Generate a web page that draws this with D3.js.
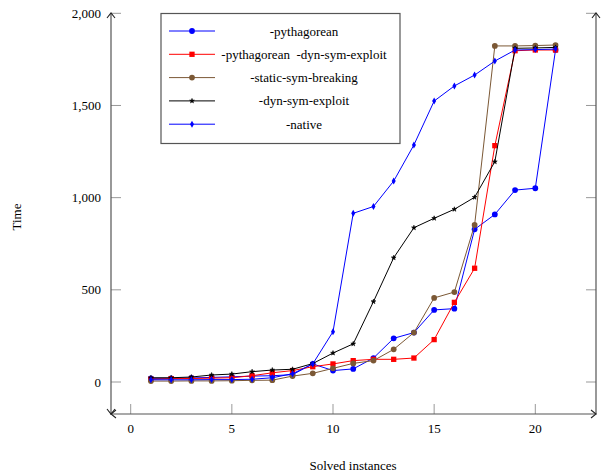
<!DOCTYPE html>
<html>
  <head>
    <meta charset="utf-8">
    <script src="https://d3js.org/d3.v7.min.js"></script>
    <style>
      body { margin: 0; background: #fff; }
      text { font-family: "Liberation Serif", "Times New Roman", serif; fill: #000; white-space: pre; }
    </style>
  </head>
  <body>
    <svg width="602" height="474"></svg>
    <script>
    //solved instances on the x axis
    var instances = d3.range(1, 22);

    //times for every configuration
    var pythagorean = [20, 20, 22, 25, 28, 32, 34, 40, 98, 62, 71, 130, 237, 268, 391, 398, 828, 909, 1041, 1051, 1801];
    var pythDynSym = [15, 18, 19, 21, 23, 34, 50, 62, 83, 98, 116, 123, 123, 130, 230, 432, 617, 1282, 1797, 1801, 1801];
    var staticSym = [5, 5, 6, 6, 7, 9, 10, 32, 47, 74, 101, 116, 177, 268, 456, 488, 852, 1823, 1823, 1825, 1828];
    var dynSym = [23, 23, 27, 38, 43, 56, 65, 69, 100, 157, 207, 436, 674, 837, 888, 937, 1002, 1195, 1810, 1812, 1815];
    var native = [12, 12, 12, 13, 13, 15, 23, 45, 98, 273, 915, 952, 1090, 1286, 1524, 1606, 1665, 1741, 1801, 1803, 1806];

    var seriesNames = ["-pythagorean", "-pythagorean  -dyn-sym-exploit", "-static-sym-breaking", "-dyn-sym-exploit", "-native"];
    var xTicks = [0, 5, 10, 15, 20];
    var yTicks = [0, 500, 1000, 1500, 2000];

    //styles for each series
    var styles = [
      {color: "#0000ff", symbol: d3.symbolCircle, size: 26},
      {color: "#ff0000", symbol: d3.symbolSquare, size: 28},
      {color: "#7b5835", symbol: d3.symbolCircle, size: 26},
      {color: "#000000", symbol: d3.symbolStar, size: 7},
      {color: "#0000ff", symbol: d3.symbolDiamond, size: 14}
    ];
    var values = [pythagorean, pythDynSym, staticSym, dynSym, native];

    var svg = d3.select("svg");

    //frame of the axis
    var frameL = 111, frameR = 596, frameT = 13, frameB = 414;

    var x = d3.scaleLinear().domain([0, 20]).range([130.7, 535.3]);
    var y = d3.scaleLinear().domain([0, 2000]).range([382, 13.3]);

    var axisColor = "#555";
    var tickColor = "#999";

    //tick marks
    var g = svg.append("g");
    g.selectAll(".ytl").data(yTicks).enter().append("line")
      .attr("x1", frameL).attr("x2", frameL + 10)
      .attr("y1", function(d) { return y(d); }).attr("y2", function(d) { return y(d); })
      .attr("stroke", tickColor).attr("stroke-width", 1);
    g.selectAll(".ytr").data(yTicks).enter().append("line")
      .attr("x1", frameR - 10).attr("x2", frameR)
      .attr("y1", function(d) { return y(d); }).attr("y2", function(d) { return y(d); })
      .attr("stroke", tickColor).attr("stroke-width", 1);
    g.selectAll(".xt").data(xTicks).enter().append("line")
      .attr("x1", function(d) { return x(d); }).attr("x2", function(d) { return x(d); })
      .attr("y1", frameB - 10).attr("y2", frameB)
      .attr("stroke", tickColor).attr("stroke-width", 1);

    //tick labels
    var fmt = d3.format(",");
    g.selectAll(".yl").data(yTicks).enter().append("text")
      .attr("x", 101).attr("y", function(d) { return y(d); })
      .attr("dy", "0.35em")
      .attr("text-anchor", "end")
      .attr("font-size", 13)
      .text(function(d) { return fmt(d); });
    g.selectAll(".xl").data(xTicks).enter().append("text")
      .attr("x", function(d) { return x(d); }).attr("y", 433)
      .attr("text-anchor", "middle")
      .attr("font-size", 13)
      .text(function(d) { return d; });

    //axis lines
    g.append("path")
      .attr("d", "M" + frameL + "," + frameT + "V" + frameB + "H" + frameR + "V" + frameT)
      .attr("fill", "none").attr("stroke", axisColor).attr("stroke-width", 1.2);

    //arrow heads
    function arrow(px, py, angle) {
      g.append("path")
        .attr("d", "M-5,-4L0,0L-5,4")
        .attr("transform", "translate(" + px + "," + py + ") rotate(" + angle + ")")
        .attr("fill", "none").attr("stroke", "#222").attr("stroke-width", 1.1);
    }
    arrow(frameL, frameT, -90);
    arrow(frameR, frameT, -90);
    arrow(frameR, frameB, 0);
    arrow(frameL, frameB, 90);
    arrow(frameL, frameB, 180);

    //axis titles
    svg.append("text")
      .attr("transform", "translate(21,217) rotate(-90)")
      .attr("text-anchor", "middle")
      .attr("font-size", 13)
      .text("Time");
    svg.append("text")
      .attr("x", 353).attr("y", 470)
      .attr("text-anchor", "middle")
      .attr("font-size", 13)
      .text("Solved instances");

    //lines and markers
    var line = d3.line()
      .x(function(d) { return x(d[0]); })
      .y(function(d) { return y(d[1]); });

    values.forEach(function(vals, k) {
      var pts = instances.map(function(n, i) { return [n, vals[i]]; });
      var s = svg.append("g");
      s.append("path")
        .attr("d", line(pts))
        .attr("fill", "none")
        .attr("stroke", styles[k].color)
        .attr("stroke-width", 1);
      s.selectAll("path.mark").data(pts).enter().append("path")
        .attr("class", "mark")
        .attr("d", d3.symbol().type(styles[k].symbol).size(styles[k].size))
        .attr("transform", function(d) { return "translate(" + x(d[0]) + "," + y(d[1]) + ")"; })
        .attr("fill", styles[k].color)
        .attr("stroke", k === 3 ? "#000" : "none")
        .attr("stroke-width", 0.6);
    });

    //legend
    var legend = svg.append("g");
    legend.append("rect")
      .attr("x", 161).attr("y", 13.5)
      .attr("width", 239).attr("height", 130)
      .attr("fill", "#fff")
      .attr("stroke", axisColor).attr("stroke-width", 1.2);

    var items = legend.selectAll("g.item").data(seriesNames).enter().append("g")
      .attr("class", "item")
      .attr("transform", function(d, i) { return "translate(0," + (31 + i * 23.3) + ")"; });

    items.append("line")
      .attr("x1", 169).attr("x2", 215)
      .attr("stroke", function(d, i) { return styles[i].color; })
      .attr("stroke-width", 1);
    items.append("path")
      .attr("d", function(d, i) { return d3.symbol().type(styles[i].symbol).size(styles[i].size)(); })
      .attr("transform", "translate(192,0)")
      .attr("fill", function(d, i) { return styles[i].color; })
      .attr("stroke", function(d, i) { return i === 3 ? "#000" : "none"; })
      .attr("stroke-width", 0.6);
    items.append("text")
      .attr("x", 304)
      .attr("dy", "0.35em")
      .attr("text-anchor", "middle")
      .attr("font-size", 13)
      .text(function(d) { return d; });
    </script>
  </body>
</html>
